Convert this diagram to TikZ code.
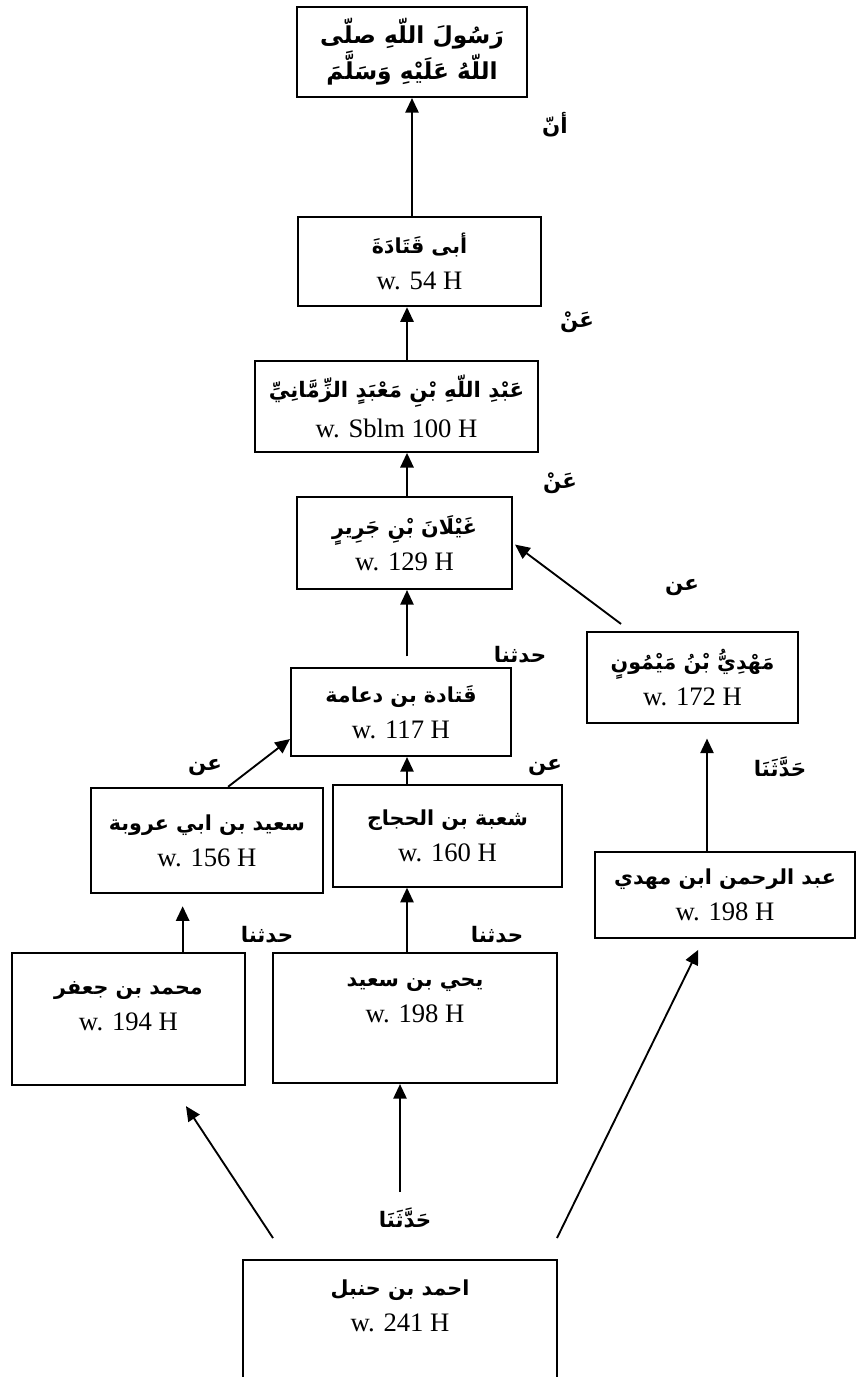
\documentclass[tikz,border=0pt]{standalone}
\usepackage{fontspec}
\setmainfont{Liberation Serif}
\newfontfamily\arabicfont[Script=Arabic]{DejaVu Sans}
\TeXXeTstate=1
\usetikzlibrary{arrows.meta}
\usetikzlibrary{calc}

\newcommand{\ar}[2][15.5]{{\fontsize{#1}{27}\selectfont\arabicfont\bfseries\beginR #2\endR}}

\tikzset{
  isnad/.style={draw, line width=1.6pt, rectangle, align=center, inner sep=2pt,
    font=\fontsize{20}{27}\selectfont},
  narr/.style={-{Triangle[width=10pt,length=11pt]}, line width=1.4pt},
  sigha/.style={inner sep=0pt}
}

\begin{document}
\begin{tikzpicture}[x=0.75pt,y=0.75pt,yscale=-1,xscale=1]
  \useasboundingbox (0,0) rectangle (866,1377);
  % narrators
  \node[isnad, minimum width=172.5pt, minimum height=67.5pt] (rasul) at (412,52)
    {\ar[17.5]{رَسُولَ اللّهِ صلّى}\\\ar[17.5]{اللّهُ عَلَيْهِ وَسَلَّمَ}};
  \node[isnad, minimum width=182pt, minimum height=67pt] (abuqatada) at (419.5,261.5)
    {\ar{أبى قَتَادَةَ}\\w. 54 H};
  \node[isnad, minimum width=212pt, minimum height=68pt] (abdullah) at (396.5,406.5)
    {\ar[16]{عَبْدِ اللّهِ بْنِ مَعْبَدٍ الزِّمَّانِيِّ}\\[3pt]w. Sblm 100 H};
  \node[isnad, minimum width=161pt, minimum height=69pt] (ghaylan) at (404.5,543)
    {\ar{غَيْلَانَ بْنِ جَرِيرٍ}\\w. 129 H};
  \node[isnad, minimum width=165pt, minimum height=66pt] (qatada) at (401,712)
    {\ar{قَتادة بن دعامة}\\w. 117 H};
  \node[isnad, minimum width=174pt, minimum height=79pt] (said) at (207,840.5)
    {\ar{سعيد بن ابي عروبة}\\w. 156 H};
  \node[isnad, minimum width=172pt, minimum height=76pt] (shuba) at (447.5,836)
    {\ar{شعبة بن الحجاج}\\w. 160 H};
  \node[isnad, minimum width=158pt, minimum height=68pt] (mahdi) at (692.5,677.5)
    {\ar{مَهْدِيُّ بْنُ مَيْمُونٍ}\\w. 172 H};
  \node[isnad, minimum width=195pt, minimum height=64.5pt] (abdurrahman) at (725,895)
    {\ar{عبد الرحمن ابن مهدي}\\w. 198 H};
  \node[isnad, minimum width=175pt, minimum height=99pt] (muhammad) at (128.5,1019)
    {\ar{محمد بن جعفر}\\w. 194 H\rule[-19pt]{0pt}{19pt}};
  \node[isnad, minimum width=213pt, minimum height=97.5pt] (yahya) at (415,1018)
    {\ar{يحي بن سعيد}\\w. 198 H\rule[-27pt]{0pt}{27pt}};
  \node[isnad, minimum width=235.5pt, minimum height=105pt] (ahmad) at (400,1330)
    {\ar{احمد بن حنبل}\\w. 241 H\rule[-36pt]{0pt}{36pt}};

  % sigha of transmission
  \node[sigha] (s1) at (555,125) {\ar[16]{أنّ}};
  \node[sigha] (s2) at (577,322) {\ar[16]{عَنْ}};
  \node[sigha] (s3) at (560,483) {\ar[16]{عَنْ}};
  \node[sigha] (s4) at (682,588) {\ar[16]{عن}};
  \node[sigha] (s5) at (520,655) {\ar[16]{حدثنا}};
  \node[sigha] (s6) at (205,768) {\ar[16]{عن}};
  \node[sigha] (s7) at (545,768) {\ar[16]{عن}};
  \node[sigha] (s8) at (780,767) {\ar[16]{حَدَّثَنَا}};
  \node[sigha] (s9) at (267,935) {\ar[16]{حدثنا}};
  \node[sigha] (s10) at (497,935) {\ar[16]{حدثنا}};
  \node[sigha] (s11) at (405,1218) {\ar[16]{حَدَّثَنَا}};

  % chain
  \coordinate (axis) at (407,0);
  \coordinate (axisR) at (707,0);
  \coordinate (m1) at ($(muhammad.north west)!0.73!(muhammad.north east)$);
  \coordinate (aL) at (273,1238);
  \coordinate (aM) at (400,1192);
  \coordinate (aR) at (557,1238);
  \draw[narr] (abuqatada.north -| rasul.south) -- (rasul.south);
  \draw[narr] (abdullah.north -| axis) -- (abuqatada.south -| axis);
  \draw[narr] (ghaylan.north -| axis) -- (abdullah.south -| axis);
  \draw[narr, shorten <=8pt] (qatada.north -| axis) -- (ghaylan.south -| axis);
  \draw[narr, shorten <=9pt, shorten >=2pt] (mahdi) -- (ghaylan.east);
  \draw[narr] ($(said.north west)!0.59!(said.north east)$) -- ($(qatada.north west)!0.8!(qatada.south west)$);
  \draw[narr] (shuba.north -| axis) -- (qatada.south -| axis);
  \draw[narr] (yahya.north -| axis) -- (shuba.south -| axis);
  \draw[narr, shorten >=9pt] (m1) -- (m1 |- said.south);
  \draw[narr, shorten >=11pt] (abdurrahman.north -| axisR) -- (mahdi.south -| axisR);
  \draw[narr, shorten >=18pt] (aL) -- (muhammad);
  \draw[narr] (aM) -- (aM |- yahya.south);
  \draw[narr, shorten >=9pt] (aR) -- (abdurrahman);
\end{tikzpicture}
\end{document}
